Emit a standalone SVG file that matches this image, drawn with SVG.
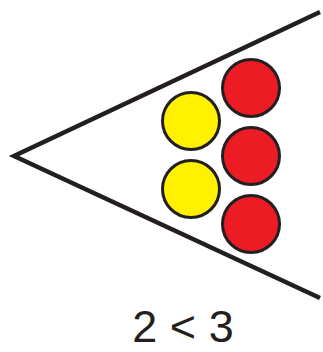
<svg xmlns="http://www.w3.org/2000/svg" width="323" height="352" viewBox="0 0 323 352">
<style>
.edge{stroke:#231f20;stroke-width:4.5;fill:none;stroke-linejoin:miter}
.ball{stroke:#231f20;stroke-width:3}
.y{fill:#fff100}
.r{fill:#ed1c24}
.lbl{font-family:"Liberation Sans",Arial,sans-serif;font-size:45px;fill:#231f20}
</style>
<rect width="323" height="352" fill="#fff"/>
<g id="connectors">
<polyline class="edge" points="320,12 14,156 320,298"/>
</g>
<g id="yellow1"><circle class="ball y" cx="191" cy="121" r="28.5"/></g>
<g id="yellow2"><circle class="ball y" cx="191" cy="189" r="28.5"/></g>
<g id="red1"><circle class="ball r" cx="251" cy="88" r="28.5"/></g>
<g id="red2"><circle class="ball r" cx="251" cy="156" r="28.5"/></g>
<g id="red3"><circle class="ball r" cx="251" cy="224" r="28.5"/></g>
<g id="label"><text class="lbl" x="183" y="342" text-anchor="middle">2 &lt; 3</text></g>
</svg>
